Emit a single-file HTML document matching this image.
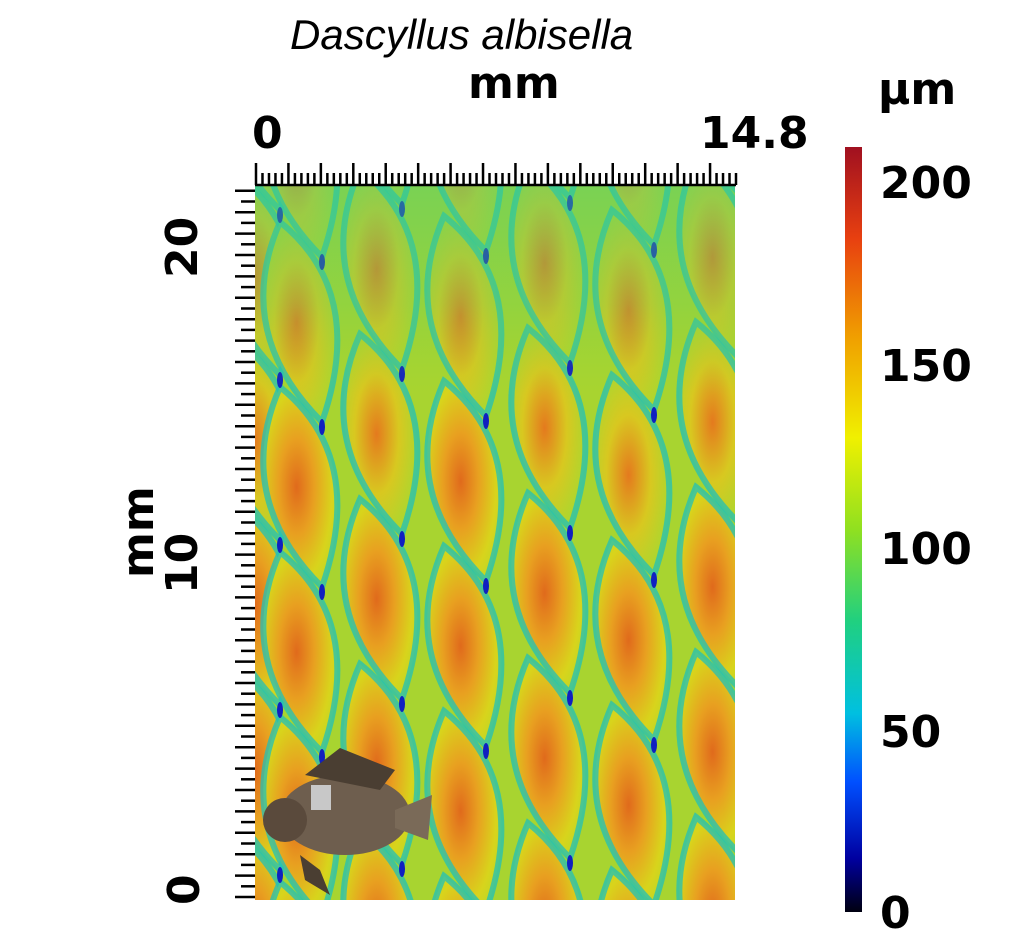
<!DOCTYPE html>
<html><head><meta charset="utf-8"><style>
html,body{margin:0;padding:0;background:#fff;width:1029px;height:939px;overflow:hidden;}
body{position:relative;font-family:"DejaVu Sans","Liberation Sans",sans-serif;}
.t{position:absolute;font-weight:bold;color:#000;line-height:1;white-space:nowrap;}
</style></head><body>
<svg id="s" width="1029" height="939" style="position:absolute;left:0;top:0">
<defs>
<radialGradient id="sc" cx="0.45" cy="0.5" r="0.6">
<stop offset="0" stop-color="#e06a1c"/><stop offset="0.4" stop-color="#e8a020"/><stop offset="0.8" stop-color="#d8d41c"/><stop offset="1" stop-color="#c0d824"/>
</radialGradient>
<radialGradient id="sc2" cx="0.45" cy="0.5" r="0.6">
<stop offset="0" stop-color="#e47a1e"/><stop offset="0.5" stop-color="#d8c820"/><stop offset="1" stop-color="#a8d830"/>
</radialGradient>
<linearGradient id="cb" x1="0" y1="1" x2="0" y2="0">
<stop offset="0" stop-color="#000010"/><stop offset="0.07" stop-color="#0000a0"/><stop offset="0.17" stop-color="#0050ff"/><stop offset="0.26" stop-color="#00c0e0"/><stop offset="0.38" stop-color="#20d080"/><stop offset="0.5" stop-color="#90e020"/><stop offset="0.62" stop-color="#f0f000"/><stop offset="0.75" stop-color="#f0a000"/><stop offset="0.88" stop-color="#e84010"/><stop offset="1" stop-color="#a01020"/>
</linearGradient>
<linearGradient id="top" x1="0" y1="0" x2="0" y2="1">
<stop offset="0" stop-color="#40d080" stop-opacity="0.45"/><stop offset="0.4" stop-color="#60d060" stop-opacity="0.3"/><stop offset="0.7" stop-color="#80d040" stop-opacity="0"/>
</linearGradient>
<clipPath id="cl"><rect x="255" y="185" width="480" height="715"/></clipPath>
</defs>
<rect x="255" y="185" width="480" height="715" fill="#a8d430"/>
<g id="map" clip-path="url(#cl)"></g>
<rect x="845" y="147" width="17" height="765" fill="url(#cb)"/>
<g id="ax" stroke="#000" stroke-width="2.5"></g>
</svg>
<div class="t" style="left:290px;top:14px;font-size:42px;font-weight:normal;font-style:italic;font-family:'Liberation Sans',sans-serif">Dascyllus albisella</div>
<div class="t" style="left:468px;top:62px;font-size:44px">mm</div>
<div class="t" style="left:252px;top:112px;font-size:44px">0</div>
<div class="t" style="left:700px;top:112px;font-size:44px">14.8</div>
<div class="t" style="left:878px;top:68px;font-size:44px">µm</div>
<div class="t" style="left:880px;top:162px;font-size:44px">200</div>
<div class="t" style="left:880px;top:345px;font-size:44px">150</div>
<div class="t" style="left:880px;top:528px;font-size:44px">100</div>
<div class="t" style="left:880px;top:711px;font-size:44px">50</div>
<div class="t" style="left:880px;top:892px;font-size:44px">0</div>
<div class="t" style="left:163px;top:905px;font-size:44px;transform:rotate(-90deg);transform-origin:0 0">0</div>
<div class="t" style="left:161px;top:594px;font-size:44px;transform:rotate(-90deg);transform-origin:0 0">10</div>
<div class="t" style="left:161px;top:278px;font-size:44px;transform:rotate(-90deg);transform-origin:0 0">20</div>
<div class="t" style="left:117px;top:578px;font-size:44px;transform:rotate(-90deg);transform-origin:0 0">mm</div>
<script>
var NS="http://www.w3.org/2000/svg";
function el(p,n,a){var e=document.createElementNS(NS,n);for(var k in a)e.setAttribute(k,a[k]);p.appendChild(e);return e;}
var m=document.getElementById('map');
var cols=[250,292,372,456,540,624,708,780];
for(var r=-1;r<6;r++){
 for(var c=0;c<cols.length;c++){
  var x=cols[c], y=175+r*165+(c%2)*70-((c*23)%40);
  var h=200,w=100;
  var d="M"+(x-12)+","+y+" Q"+(x+w*0.75)+","+(y+h*0.35)+" "+(x+w*0.3)+","+(y+h)+" Q"+(x-w*0.6)+","+(y+h*0.55)+" "+(x-12)+","+y+"Z";
  el(m,'path',{d:d,fill:(y<380?'url(#sc2)':'url(#sc)'),stroke:'#20c0b8','stroke-width':6,'stroke-opacity':0.75});
 }
}
for(var r=-1;r<6;r++)for(var c=0;c<cols.length;c++){
  var x=cols[c], y=175+r*165+(c%2)*70-((c*23)%40);
  el(m,'ellipse',{cx:x+30,cy:y+205,rx:3,ry:8,fill:'#1020c0'});
}
el(m,'rect',{x:255,y:185,width:480,height:300,fill:'url(#top)'});
var f=el(m,'g',{});
el(f,'ellipse',{cx:345,cy:815,rx:65,ry:40,fill:'#6e5e4e'});
el(f,'path',{d:"M305,775 L340,748 L395,770 L380,790Z",fill:'#4a3e32'});
el(f,'path',{d:"M395,810 L432,795 L428,840 L395,828Z",fill:'#7a6a58'});
el(f,'path',{d:"M300,855 L320,870 L330,895 L305,880Z",fill:'#4a3e32'});
el(f,'ellipse',{cx:285,cy:820,rx:22,ry:22,fill:'#5a4a3c'});
el(f,'rect',{x:311,y:785,width:20,height:25,fill:'#c8c8c8'});
var a=document.getElementById('ax');
for(var i=0;i<=74;i++){var X=256+i*480/74;var L=(i%5==0)?22:12;el(a,'line',{x1:X,y1:185,x2:X,y2:185-L});}
el(a,'line',{x1:255,y1:185,x2:736,y2:185});
for(var y=897;y>=186;y-=10.7){var k=Math.round((897-y)/10.7);var L=(k%2==0)?20:14;el(a,'line',{x1:255,y1:y,x2:255-L,y2:y});}
</script>
</body></html>
